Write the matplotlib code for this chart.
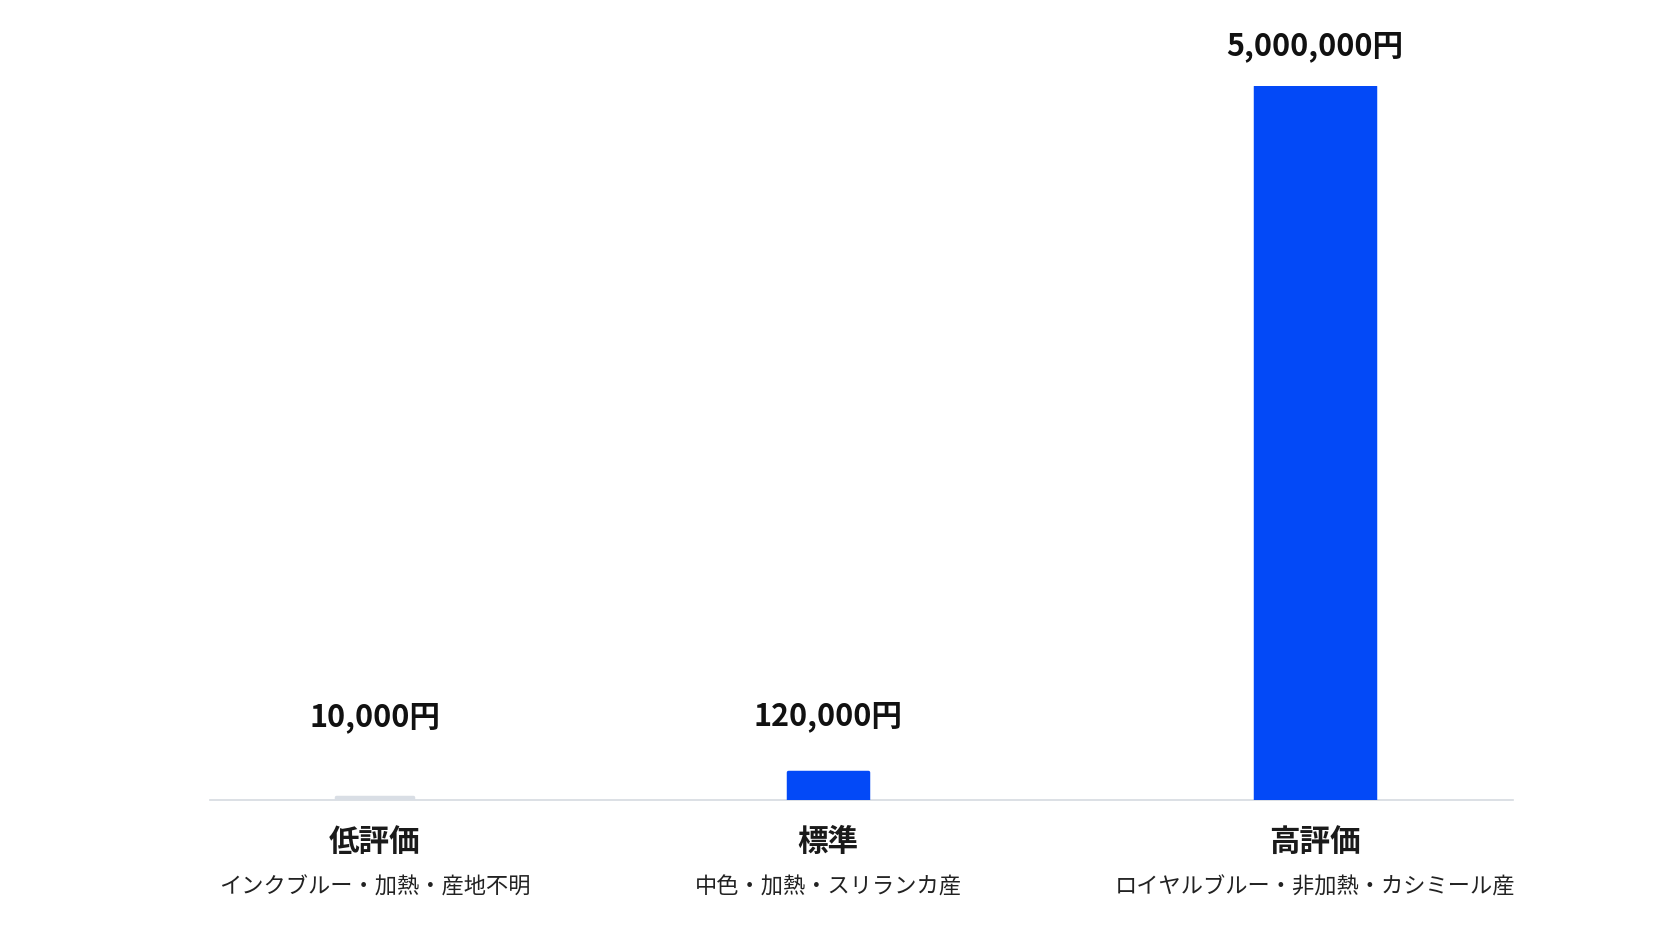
import matplotlib
matplotlib.use("Agg")
import matplotlib.pyplot as plt
import numpy as np

plt.rcParams['font.family'] = ['Noto Sans CJK JP', 'DejaVu Sans']

# data
grades = ['低評価', '標準', '高評価']
details = ['インクブルー・加熱・産地不明', '中色・加熱・スリランカ産', 'ロイヤルブルー・非加熱・カシミール産']
prices = [10000, 120000, 5000000]

# layout / style
x_pos = [0, 1, 2.075]
bar_w = [0.17, 0.177, 0.265]
bar_colors = ['#d9dee5', '#0349f7', '#0349f7']
label_pad = [57, 40, 29]   # points above bar top

fig = plt.figure(figsize=(16.72, 9.41), dpi=100)
fig.patch.set_facecolor('white')
ax = fig.add_axes([210 / 1672, 141 / 941, 1303 / 1672, 714 / 941])
ax.set_facecolor('white')

# compressed value scale so the small bars stay visible
p = 0.868
ax.set_yscale('function',
              functions=(lambda v: np.power(np.clip(v, 0, None), p),
                         lambda v: np.power(np.clip(v, 0, None), 1 / p)))

bars = ax.bar(x_pos, prices, width=bar_w, color=bar_colors,
              edgecolor=bar_colors, linewidth=2.5, joinstyle='round', zorder=3)

for x, v, pad in zip(x_pos, prices, label_pad):
    ax.annotate(f'{v:,}円', xy=(x, v), xytext=(0, pad), textcoords='offset points',
                ha='center', va='center', fontsize=22, fontweight='bold', color='#111111')

for x, g, d in zip(x_pos, grades, details):
    ax.annotate(g, xy=(x, 0), xycoords=('data', 'axes fraction'), xytext=(0, -30),
                textcoords='offset points', ha='center', va='center',
                fontsize=22, fontweight='bold', color='#1a1a1a')
    ax.annotate(d, xy=(x, 0), xycoords=('data', 'axes fraction'), xytext=(0, -62.5),
                textcoords='offset points', ha='center', va='center',
                fontsize=16, color='#222222')

ax.set_xlim(-0.364, 2.512)
ax.set_ylim(0, 5000000)
for s in ['top', 'right', 'left']:
    ax.spines[s].set_visible(False)
ax.spines['bottom'].set_color('#d6dae0')
ax.spines['bottom'].set_linewidth(1.2)
ax.spines['bottom'].set_zorder(2)
ax.set_xticks([])
ax.set_yticks([])
ax.minorticks_off()

fig.savefig('out.png', dpi=100, facecolor='white')
